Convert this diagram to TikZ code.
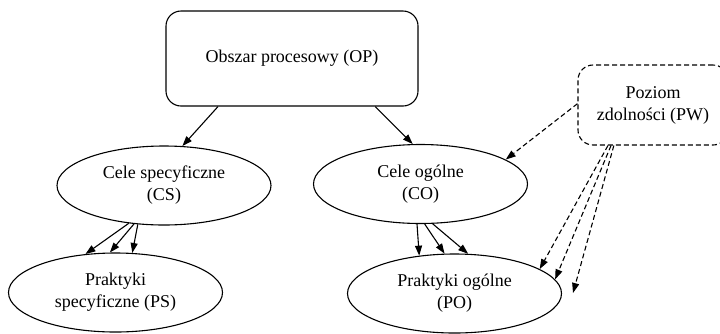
\documentclass[tikz,border=0pt]{standalone}
\usepackage{fontspec}
\setmainfont{Liberation Serif}
\usetikzlibrary{arrows.meta,shapes.geometric}

\begin{document}
\begin{tikzpicture}[x=1pt, y=-1pt, line width=1.1pt,
  every node/.style={font=\rmfamily\fontsize{18}{22}\selectfont, align=center, inner sep=0pt},
  area/.style={draw, rounded corners=15pt, minimum width=252pt, minimum height=95pt},
  level/.style={draw, dash pattern=on 5pt off 3pt, rounded corners=15pt, minimum width=150pt, minimum height=80pt},
  goal/.style={draw, ellipse, minimum width=214pt, minimum height=79pt},
  link/.style={-{Triangle[length=10pt,width=7pt]}},
  dlink/.style={link, dash pattern=on 5pt off 3pt}]
  \useasboundingbox (0,0) rectangle (720,333);

  % boxes
  \node[area]  (OP) at (292,58.5) {Obszar procesowy (OP)};
  \node[level] (PW) at (653,105) {Poziom\\zdolności (PW)};

  % ellipses
  \node[goal] (CS) at (164,185.5) {Cele specyficzne\\(CS)};
  \node[goal] (CO) at (420.5,184) {Cele ogólne\\(CO)};
  \node[goal] (PS) at (115.5,292.5) {Praktyki\\specyficzne (PS)};
  \node[goal] (PO) at (454.5,293.5) {Praktyki ogólne\\(PO)};
  \coordinate (PWend) at (573,293);

  % solid edges
  \draw[link] (OP.-147) -- (CS.65);
  \draw[link] (OP.-30) -- (CO.101);
  \foreach \a/\b in {-133/128, -128/98, -124/67}
    \draw[link] (CS.\a) -- (PS.\b);
  \foreach \a/\b in {-95/133, -84/104, -73/71}
    \draw[link] (CO.\a) -- (PO.\b);

  % dashed edges
  \draw[dlink] (PW.179) -- (CO.16);
  \draw[dlink] (PW.-138) -- (PO.16);
  \draw[dlink] (PW.-136) -- (PO.8);
  \draw[dlink] (PW.-134) -- (PWend);
\end{tikzpicture}
\end{document}
